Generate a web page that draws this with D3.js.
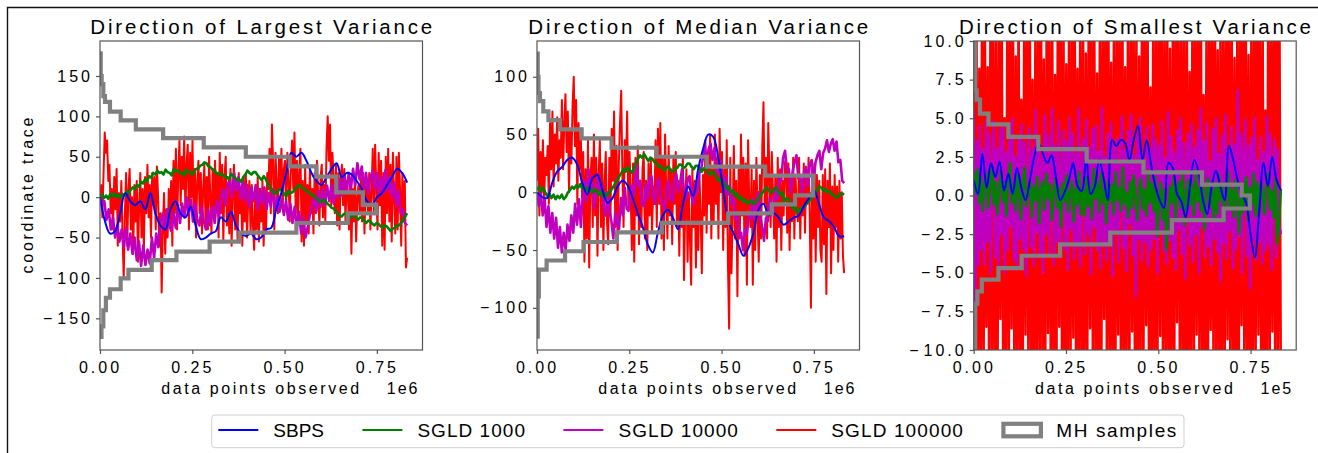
<!DOCTYPE html>
<html>
<head>
<meta charset="utf-8">
<script src="https://cdn.jsdelivr.net/npm/d3@7"></script>
<style>
  body { margin: 0; background: #fff; }
  text { font-family: "Liberation Sans", Arial, sans-serif; fill: #000; }
</style>
</head>
<body>
<svg id="chart"></svg>
<script>
// ---- data ----
var seriesNames = ["SBPS", "SGLD 1000", "SGLD 10000", "SGLD 100000", "MH samples"];
var seriesColors = ["#0000ff", "#008000", "#bf00bf", "#ff0000", "#808080"];
var panelTitles = ["Direction of Largest Variance", "Direction of Median Variance", "Direction of Smallest Variance"];
var offsetLabels = ["1e6", "1e6", "1e5"];
var xTicks = [0, 0.25, 0.5, 0.75];
var yTicks1 = [-150, -100, -50, 0, 50, 100, 150];
var yTicks2 = [-100, -50, 0, 50, 100];
var yTicks3 = [-10, -7.5, -5, -2.5, 0, 2.5, 5, 7.5, 10];
var traceEnd = 0.832;   // last observed x (in units of the offset label)
var mhEnd = 0.748;

// panel 1 : largest variance
var p1Blue = [0,-30,-45,-42,-20,5,-5,-10,-5,-15,5,-20,-35,-40,-15,-5,-20,-25,-12,-35,-52,-50,-45,-42,-25,-30,-18,-35,-45,-48,-45,-52,-50,-40,-38,-15,5,30,55,50,55,45,30,20,15,25,35,42,25,30,28,20,10,-5,-10,0,5,15,25,35,30,18];
var p1Green = [0,3,-1,2,-2,4,1,5,0,3,-1,4,2,7,5,9,12,10,15,13,19,17,22,20,26,24,30,28,33,30,31,28,34,31,30,27,35,32,33,30,30,27,34,31,31,28,32,35,36,39,40,43,42,38,37,34,33,29,30,27,28,25,25,22,29,26,24,21,22,19,25,28,33,30,28,31,31,27,24,21,26,22,16,13,8,5,5,8,10,7,4,1,8,5,6,9,12,15,14,11,10,7,6,3,3,0,-2,-5,-6,-3,-4,-8,-10,-13,-14,-17,-20,-23,-24,-21,-20,-23,-26,-23,-22,-25,-28,-25,-26,-29,-32,-29,-30,-33,-35,-32,-33,-36,-38,-35,-36,-39,-42,-39,-38,-35,-35,-32,-28,-24,-20];
var p1Magenta = [5,-10,-5,-28,-15,-40,-25,-50,-35,-55,-40,-62,-38,-65,-45,-70,-50,-78,-55,-85,-60,-84,-65,-82,-50,-75,-45,-62,-30,-20,-40,-15,-35,-42,-20,-38,-10,-32,-8,-25,0,-20,-3,-30,-8,-28,-35,-12,-30,-40,-15,-35,-12,-32,-5,-25,0,10,-10,15,22,0,30,8,25,-2,20,-5,15,-12,12,-5,15,-15,10,-8,12,-15,5,-12,10,-15,0,-18,-2,-22,-5,-28,-8,-32,-12,-38,-18,-45,-25,-50,-38,-22,-10,0,-18,8,-12,10,-10,14,-5,16,-8,18,0,22,2,28,5,30,10,35,15,42,22,38,10,30,5,25,32,10,30,2,26,5,34,8,25,0,18,-10,8,-20,-15,-32,-35];
var p1Red = [
  -10,15,-25,30,80,55,70,20,40,-20,   10,-40,25,-15,35,-60,5,-30,20,-45,
  -100,-20,30,-60,10,35,-40,0,-70,15, -30,20,-80,-10,30,-50,10,-65,25,-20,
  40,-25,15,-50,30,-10,25,-40,38,0,   -60,-20,-118,-40,5,-70,-15,-50,10,-35,
  20,-60,45,-20,60,-40,30,70,-10,50,  10,75,-20,40,65,-40,55,0,70,-30,
  35,-50,20,45,-20,30,-45,10,40,-35,  25,-40,50,0,-45,35,-25,45,-10,30,
  -50,55,-20,40,-55,25,50,-35,15,-45, 35,-60,10,40,-40,20,-55,30,-20,5,
  -60,25,-30,30,-50,0,20,-45,15,-35,  -65,10,-40,25,-55,5,-30,20,-60,0,
  -45,30,10,60,-20,90,40,-40,55,15,   -20,50,10,60,-15,35,45,-10,55,20,
  -30,40,70,10,80,-20,45,-25,30,60,   -55,20,-60,40,-30,15,-45,35,-20,10,
  -45,30,-20,45,0,-35,25,40,-25,15,   -30,60,100,45,90,-10,55,20,-20,40,
  -35,30,-40,25,40,-10,35,-30,20,5,   -40,20,-70,10,-30,25,-55,0,15,-20,
  25,-30,30,-45,10,20,-20,30,-40,5,   60,-20,65,10,-40,55,-10,45,-60,30,
  -65,50,-20,60,-30,40,-55,55,0,-45,  50,-40,55,10,-60,30,-30,20,-87,-75];
var p1MhUpX = [0,0.002,0.0045,0.009,0.0135,0.027,0.056,0.097,0.171,0.281,0.395,0.514,0.586,0.64,0.712];
var p1MhUpV = [178,150,140,125,118,106,95,84,73,61.5,50,38,25.5,6,-9.5];
var p1MhLoX = [0,0.004,0.009,0.016,0.027,0.056,0.077,0.14,0.207,0.297,0.378,0.532,0.671];
var p1MhLoV = [-173,-160,-140,-124.5,-114,-100.5,-90,-78,-67.5,-55,-44,-32,-20];

// panel 2 : median variance
var p2Blue = [0,-4,-5,8,18,22,28,30,24,8,-2,12,15,2,-9,-5,5,10,6,-5,-18,-30,-45,-52,-35,-20,-15,-22,-32,-10,5,-3,20,38,50,48,30,2,-25,-35,-45,-55,-48,-35,-15,-10,-20,-18,-22,-28,-25,-22,-20,-12,-5,2,-10,-22,-25,-30,-38,-38];
var p2Green = [2,5,1,4,0,-3,-1,-5,-2,-6,-3,-5,-2,-6,-4,0,2,5,3,6,4,7,3,5,1,4,2,0,3,1,-2,1,-4,-1,-3,0,2,5,8,11,14,17,20,18,22,19,17,21,26,29,32,30,33,30,27,30,29,26,25,22,23,20,19,22,22,18,18,21,21,24,24,21,22,25,25,22,20,23,23,20,18,21,21,17,15,18,17,13,10,12,6,8,3,5,0,2,-3,-1,-6,-4,-8,-6,-10,-8,-7,-10,-9,-6,-4,-1,1,4,3,0,0,3,4,1,-2,0,-8,-5,-6,-10,-14,-11,-18,-15,-15,-12,-12,-9,-8,-5,-4,-1,2,5,4,1,3,0,1,-2,-2,-5,-4,-1,-1,-2];
var p2Magenta = [0,-12,0,-20,-5,-30,-12,-35,-18,-40,-22,-48,-30,-52,-35,-50,-28,-42,-20,-35,-10,-28,-6,-30,-2,10,-8,20,2,8,-14,4,16,-2,6,-14,-20,0,-16,-25,-40,-18,-26,-32,-5,-20,4,-14,-16,0,6,-2,24,6,10,-10,-12,8,-6,12,14,-4,-10,9,12,-6,-10,-15,4,10,-6,-8,10,16,0,8,20,2,-6,12,14,-4,-10,8,0,16,20,30,40,26,38,42,28,38,22,16,28,10,0,14,-2,6,-10,-5,-24,-20,-38,-35,-50,-32,-36,-20,-22,-5,-25,-8,0,-20,-30,-42,-22,-25,-5,-10,-16,4,-6,14,10,30,36,20,20,0,18,26,32,12,14,0,18,22,5,24,28,10,26,32,36,20,34,38,45,35,42,46,36,44,26,28,10,8];
var p2Red = [
  10,55,-20,35,0,45,-10,30,15,40,     -10,60,20,70,5,50,25,65,10,45,
  30,80,20,60,85,35,70,0,55,25,       75,100,40,80,-10,60,20,45,-5,35,
  -60,20,-40,45,-65,10,30,-30,50,-20, 30,-55,15,45,-30,25,-50,10,35,-25,
  -45,30,-20,55,10,70,-30,40,-50,25,  60,88,15,-30,45,20,70,-10,35,0,
  -50,25,-60,30,-20,40,-45,10,-30,20, 35,-40,10,-50,25,-20,30,-35,5,-10,
  45,-30,55,-10,60,-40,30,-50,50,0,   -40,40,-20,20,-45,30,-10,35,-30,10,
  -55,10,-30,30,-76,-10,20,-60,0,-40, -80,20,-30,10,-65,0,-50,15,-20,-70,
  15,-20,45,-35,30,-10,50,-40,20,-25, 50,-10,30,-40,55,0,35,-50,20,-30,
  45,-60,-118,30,-70,-20,40,-40,10,-90, 20,-40,50,-20,30,-55,25,-80,45,-10,
  -30,20,-80,10,-50,30,-20,-60,15,-40, 40,78,-10,30,-40,60,15,-30,35,0,
  -40,15,-60,30,-30,20,-50,10,-20,25, 30,-35,25,-50,10,-25,30,-40,15,-15,
  -25,30,-40,10,-20,25,-35,20,-10,30, -20,-100,20,-40,25,-60,15,-30,10,-50,
  -60,15,-45,20,-88,10,-30,25,-70,5,  -50,15,-30,5,-60,10,-40,0,-55,-70];
var p2MhUpX = [0,0.002,0.004,0.008,0.017,0.031,0.062,0.121,0.202,0.324,0.46,0.618];
var p2MhUpV = [120,100,86,79,70,62.5,54.5,46.7,38.6,30.8,22.2,14.4];
var p2MhLoX = [0,0.002,0.005,0.026,0.076,0.126,0.216,0.338,0.518,0.636,0.699];
var p2MhLoV = [-125,-90,-67,-59,-51,-43,-34.6,-26.5,-18.3,-10.5,-2.6];

// panel 3 : smallest variance
var p3Blue = [1.0,0.1,2.7,0.5,2.1,1.2,2.2,0.3,1.4,0.1,1.8,0.5,-0.3,1.0,2.5,3.4,2.7,2.1,2.6,1.2,-0.3,0.2,1.0,2.1,0.6,0.3,2.5,0.1,0.6,2.3,1.2,-0.3,3.6,3.2,3.6,3.4,2.3,3.6,4.5,2.3,3.6,2.0,0.6,-0.3,-0.8,2.1,1.8,0.1,-0.4,-1.4,0.6,2.3,1.5,-0.3,-1.2,0.6,1.6,0.6,-0.3,3.2,2.3,1.0,0.1,-0.5,-2.5,-4.0,-1.0,2.1,0.6,2.5,1.0,0.35];
var p3Green = [
  1.5,0.2,1.7,-0.5,1.2,-1,0.8,1.4,-0.8,0.5,1.9,-0.6,0.9,-1.2,0.4,1.6,-0.4,0.8,-1.3,1.1,
  2.1,-0.5,0.7,-1,1.3,0.2,-1.5,0.9,1.8,-0.7,0.3,1,-1.4,0.6,-0.3,1.2,-1.8,0.4,0.9,-0.9,
  1.4,-0.2,0.7,-1.6,0.3,1.1,-0.8,0.5,-2,0.8,-0.4,1.3,-1.1,0.2,0.9,-1.7,0.5,-0.6,1.5,-1.2,
  0.4,-1.3,1.2,-0.7,0.6,-1.5,1.7,-0.2,0.8,-1.1,1.4,-0.5,0.3,-1.8,1,-0.4,0.7,-1.2,1.5,-0.3,
  0.5,-1,1.8,-0.6,0.2,-1.4,0.9,-0.8,1.3,-0.2,-1.6,0.6,1.1,-0.9,0.4,-1.3,1.6,-0.5,0.8,-1,
  1.2,-2.6,-0.3,0.8,-1.6,0.4,-3.5,-1,0.6,-0.5,1.2,-1.5,0.3,0.9,-0.8,1.4,-1.9,0.2,1,-0.6,
  0.7,-1.3,1.6,-0.4,0.5,-1,0.9,-2.2,0.3,1.1,-0.7,0.4,-1.5,0.8,-1.2,1.3,-0.3,0.6,-1.7,0.2,
  1.5,-0.9,0.4,-1.4,1,-0.2,-2.4,0.7,-1.1,0.3,1.2,-1.6,0.5,-0.6,1.4,-1.3,0.8,-1.3,0.9,0.2,
  -1.2,0.6,1.4,-0.9,0.3,-1.4,1.1,-3.1,-1.8,0.4];
var p3Magenta = [
  5.5,-7,3.5,-4.5,4.5,-3.5,3,-4.5,4.8,-3,4,-5,2,4.8,-4,3,-4.6,4.3,-2.5,4.5,
  -5,2.8,-3.5,4.2,-2,5,-4.2,2.5,-4.8,3.8,-2.8,4.6,-3.5,3.4,-5.2,1.5,4.4,-3.3,3,-4.5,
  5.5,-2.4,3.6,-4,2.6,-5,5.2,-2.5,3.9,-3.8,2.2,5.6,-4.5,3.2,-3,4.8,-4,1.8,4.2,-3.5,
  3.5,-4.8,5,-2.2,4,-4.1,2.7,-3.3,5.6,-4.6,2,3.6,-3.8,4.9,-2.5,3.1,-5.1,4.3,-2,4.5,
  -3.5,2.8,-4.7,5.7,-3.1,2.5,-4.2,4,-2.6,4.7,-5.2,3.3,-2.3,3.7,-4.3,2.1,5.1,-3.4,2.9,-4.9,
  4.2,-1.8,5.2,-3.9,2.6,-6.5,3.9,-2.8,5,-4.2,2.3,-3,4.4,-4.6,3,-3.5,4.6,-2.8,3.6,-5,
  3.2,-2.4,4.8,-3.6,2.4,-4.4,5.4,-2.9,3.8,-4,2.8,-4.8,4.2,-2.2,5,-3.8,3.4,-5.4,2.5,4,
  -3.2,4.6,-4.3,3.1,-2.5,4.2,-5,5.6,-2,3.5,-4,4.7,-3.3,2.2,-4.5,4.3,-2.8,5,-3.7,2.7,
  -5.5,3.9,-3.1,5.2,-4.1,3,-2.3,4.4,-4.7,3.3,-3.5,6.8,-2.6,4,-5,2.5,4.9,-3.9,3.2,-6,
  3.7,-2.9,5,-4.2,2.3,-3,3.8,-4.4,2.8,-3.6,5.1,-3.2,4,-4.8,2,3.6,-4,3,-2,-2.5];
var p3Red = [
  14,-9,13,-13,8.2,-12,15,-14,12,-8.5,8.3,-13,14,-12,13,-14,11,-13,12,-8,
  13,-12,5,-12,14,-13,12,-8.6,13,-13,9,-12,14,-14,6.2,-13,12,-9,13,-12,
  14,-13,7.5,-14,12,-12,13,-13,14,-12,8.8,-13,12,-8.9,13,-14,12,-12,7.8,-13,
  14,-8.5,12,-13,13,-14,8.5,-12,13,-13,12,-9.2,14,-13,8.2,-12,13,-14,12,-13,
  9.2,-12,13,-8.6,14,-13,12,-12,7.9,-14,13,-13,12,-8,13,-13,14,-12,8.6,-13,
  12,-14,13,-9,12,-13,14,-13,8.3,-12,13,-13,12,-8.8,13,-14,12,-13,9,-12,
  14,-13,13,-8.4,12,-13,7,-14,13,-12,12,-13,14,-9.1,13,-13,12,-12,13,-14,
  9.5,-13,12,-13,14,-8.2,13,-12,12,-13,13,-14,12,-13,8,-12,14,-13,12,-9,
  13,-13,14,-12,6.5,-13,12,-14,13,-8.7,12,-13,14,-12,9.4,-13,13,-14,12,-12,
  13,-9.3,14,-13,12,-12,8.9,-14,13,-13,12,-8.4,14,-13,13,-12,9.1,-14,12,-13,
  13,-12,14,-9,12,-13,13,-14,5.5,-12,14,-13,12,-8.8,13,-13,14,-12,13,-12];
var p3MhUpX = [0,0.004,0.008,0.017,0.04,0.094,0.175,0.306,0.46,0.618,0.726];
var p3MhUpV = [11,6.8,6.2,5.3,4.6,3.8,3.0,2.2,1.5,0.7,0.0];
var p3MhLoX = [0,0.004,0.01,0.022,0.067,0.13,0.234,0.37,0.537,0.677];
var p3MhLoV = [-11,-7,-6.2,-5.45,-4.7,-3.9,-3.16,-2.4,-1.6,-0.84];

// ---- layout ----
var W = 1318, H = 453;
var plotTop = 41, plotH = 309, plotW = 322.5;
var X_MAX = 0.8736;

var panels = [
    {left: 100, yDomain: [-189.2, 193.3], yTicks: yTicks1, fmt: d3.format("d"), series: [p1Blue, p1Green, p1Magenta, p1Red],
     mh: [p1MhUpX, p1MhUpV, p1MhLoX, p1MhLoV], titleW: 342, ylabel: true, widths: [2, 2.6, 2.6, 2]},
    {left: 537, yDomain: [-136.5, 131], yTicks: yTicks2, fmt: d3.format("d"), series: [p2Blue, p2Green, p2Magenta, p2Red],
     mh: [p2MhUpX, p2MhUpV, p2MhLoX, p2MhLoV], titleW: 340, ylabel: false, widths: [2, 2.6, 2.6, 2]},
    {left: 973.7, yDomain: [-10, 10], yTicks: yTicks3, fmt: d3.format(".1f"), series: [p3Blue, p3Green, p3Magenta, p3Red],
     mh: [p3MhUpX, p3MhUpV, p3MhLoX, p3MhLoV], titleW: 352, ylabel: false, widths: [2, 2.6, 2.6, 2.4]}
];

var svg = d3.select("#chart").attr("width", W).attr("height", H);
svg.append("rect").attr("width", W).attr("height", H).attr("fill", "#fff");

// outer frame (only top and left edges are inside the picture)
svg.append("path")
    .attr("d", "M7.5," + H + "V7.5H" + W)
    .attr("fill", "none").attr("stroke", "#111").attr("stroke-width", 1.4);

// builds the outline of the MH band: upper steps left->right, then lower steps right->left
function mhOutline(upX, upV, loX, loV) {
    var pts = [];
    upX.forEach(function(x0, k) {
        var x1 = k + 1 < upX.length ? upX[k + 1] : mhEnd;
        pts.push([x0, upV[k]], [x1, upV[k]]);
    });
    for (var k = loX.length - 1; k >= 0; k--) {
        var x1 = k + 1 < loX.length ? loX[k + 1] : mhEnd;
        pts.push([x1, loV[k]], [loX[k], loV[k]]);
    }
    return pts;
}

function styleTicks(g, fmt) {
    g.select(".domain").remove();
    g.selectAll("line").attr("stroke", "#555").attr("stroke-width", 1.2);
    g.selectAll("text")
        .attr("font-size", 16)
        .style("letter-spacing", "3px")
        .attr("fill", "#000")
        .each(function(d) {
            if (d < 0) {
                var t = d3.select(this).text(null);
                t.append("tspan").text("\u2212");
                t.append("tspan").attr("dx", 2).text(fmt(-d));
            }
        });
}

panels.forEach(function(p, i) {
    var g = svg.append("g").attr("transform", "translate(" + p.left + "," + plotTop + ")");

    var x = d3.scaleLinear().domain([0, X_MAX]).range([0, plotW]);
    var y = d3.scaleLinear().domain(p.yDomain).range([plotH, 0]);

    g.append("clipPath").attr("id", "clip" + i)
        .append("rect").attr("width", plotW).attr("height", plotH);

    var plot = g.append("g").attr("clip-path", "url(#clip" + i + ")");

    var line = d3.line().x(function(d) { return x(d[0]); }).y(function(d) { return y(d[1]); });
    var smooth = d3.line().x(function(d) { return x(d[0]); }).y(function(d) { return y(d[1]); })
        .curve(d3.curveCatmullRom);

    // red first, blue last, like the reference stacking
    [3, 2, 1, 0].forEach(function(s) {
        var vals = p.series[s];
        var pts = vals.map(function(v, k) { return [k * traceEnd / (vals.length - 1), v]; });
        plot.append("path")
            .attr("d", s === 0 ? smooth(pts) : line(pts))
            .attr("fill", "none")
            .attr("stroke", seriesColors[s])
            .attr("stroke-width", p.widths[s])
            .attr("stroke-linejoin", "round");
    });

    plot.append("path")
        .attr("d", line(mhOutline(p.mh[0], p.mh[1], p.mh[2], p.mh[3])))
        .attr("fill", "none")
        .attr("stroke", seriesColors[4])
        .attr("stroke-width", 4.2)
        .attr("stroke-linejoin", "miter");

    // spines
    g.append("rect").attr("width", plotW).attr("height", plotH)
        .attr("fill", "none").attr("stroke", "#555").attr("stroke-width", 1.2);

    g.append("g").attr("transform", "translate(0," + plotH + ")")
        .call(d3.axisBottom(x).tickValues(xTicks).tickFormat(d3.format(".2f")).tickSize(4).tickPadding(8))
        .call(styleTicks, d3.format(".2f"));

    g.append("g")
        .call(d3.axisLeft(y).tickValues(p.yTicks).tickFormat(p.fmt).tickSize(4).tickPadding(3))
        .call(styleTicks, p.fmt);

    // title
    g.append("text")
        .attr("x", plotW / 2).attr("y", 34 - plotTop)
        .attr("text-anchor", "middle")
        .attr("font-size", 20.5)
        .attr("textLength", p.titleW).attr("lengthAdjust", "spacing")
        .text(panelTitles[i]);

    // x label and offset text
    g.append("text")
        .attr("x", plotW / 2 - 1).attr("y", 394 - plotTop)
        .attr("text-anchor", "middle")
        .attr("font-size", 16)
        .attr("textLength", 198).attr("lengthAdjust", "spacing")
        .text("data points observed");
    g.append("text")
        .attr("x", plotW - 3).attr("y", 394 - plotTop)
        .attr("text-anchor", "end")
        .attr("font-size", 16)
        .style("letter-spacing", "2px")
        .text(offsetLabels[i]);

    if (p.ylabel) {
        g.append("text")
            .attr("transform", "translate(" + (33 - p.left) + "," + (plotH / 2) + ") rotate(-90)")
            .attr("text-anchor", "middle")
            .attr("font-size", 16)
            .attr("textLength", 156).attr("lengthAdjust", "spacing")
            .text("coordinate trace");
    }
});

// ---- legend ----
var legendTextW = [50.7, 107.6, 119.5, 131.6, 120];
var legend = svg.append("g");
legend.append("rect")
    .attr("x", 211.7).attr("y", 415).attr("width", 972.3).attr("height", 32.7)
    .attr("rx", 3).attr("fill", "#fff").attr("stroke", "#cfcfcf").attr("stroke-width", 1);

var cx = 218.3;
seriesNames.forEach(function(name, k) {
    if (k < 4) {
        legend.append("line")
            .attr("x1", cx).attr("x2", cx + 40).attr("y1", 430).attr("y2", 430)
            .attr("stroke", seriesColors[k]).attr("stroke-width", 2);
    } else {
        legend.append("rect")
            .attr("x", cx + 2.1).attr("y", 423.8).attr("width", 37.5).attr("height", 12.5)
            .attr("fill", "#fff").attr("stroke", seriesColors[k]).attr("stroke-width", 4.2);
    }
    legend.append("text")
        .attr("x", cx + 55).attr("y", 437.3)
        .attr("font-size", 19)
        .attr("textLength", legendTextW[k]).attr("lengthAdjust", "spacing")
        .text(name);
    cx += 55 + legendTextW[k] + 38.4;
});
</script>
</body>
</html>
